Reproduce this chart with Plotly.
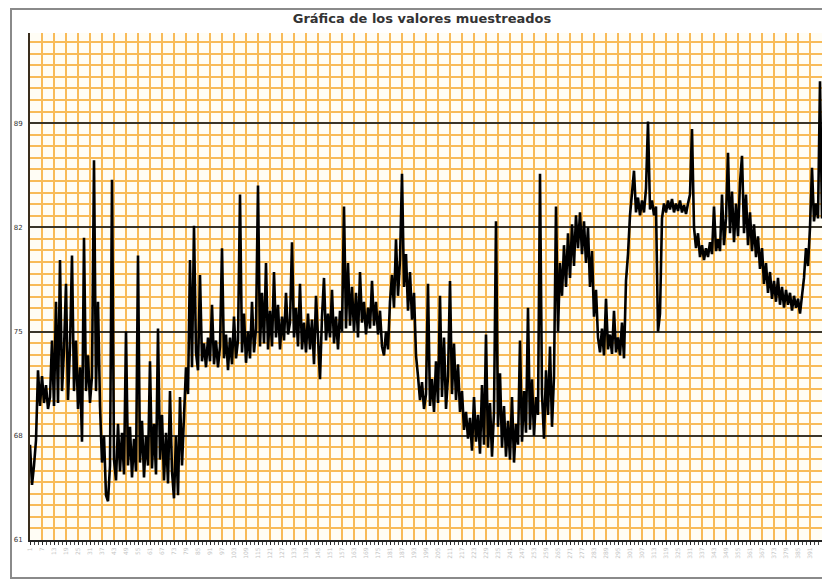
import plotly.graph_objects as go

title_text = "Gráfica de los valores muestreados"

values = [
    67.4, 64.7, 66.0, 67.7, 72.4, 70.0, 72.0, 70.2, 71.4, 69.8, 70.6, 74.4, 70.0, 77.0, 70.2, 79.8, 71.0, 73.8, 78.2, 70.4,
    74.0, 80.1, 71.0, 74.4, 69.8, 72.6, 67.6, 81.3, 71.0, 73.4, 70.2, 72.0, 86.5, 71.0, 77.0, 70.0, 66.2, 68.0, 64.0, 63.6,
    66.0, 85.2, 66.4, 65.0, 68.8, 65.6, 68.2, 65.4, 75.0, 66.0, 68.6, 65.2, 67.8, 65.6, 80.1, 66.2, 69.0, 65.2, 68.0, 66.0,
    73.0, 65.8, 68.8, 65.4, 75.2, 66.4, 69.4, 65.0, 68.2, 64.8, 71.0, 65.6, 63.8, 68.0, 64.0, 70.6, 66.0, 69.0, 72.6, 70.8,
    79.8, 72.6, 82.1, 73.6, 72.4, 78.8, 73.0, 74.2, 72.6, 74.6, 73.0, 76.8, 72.8, 74.4, 72.6, 74.0, 80.6, 73.2, 74.8, 72.4,
    74.6, 72.8, 76.0, 73.2, 74.4, 84.2, 73.6, 76.2, 72.9, 75.0, 73.2, 77.0, 73.6, 75.2, 84.8, 74.0, 77.6, 74.2, 79.6, 73.8,
    76.4, 74.0, 79.0, 74.6, 76.8, 73.8, 76.0, 74.4, 77.6, 74.8, 75.6, 81.0, 74.6, 76.6, 74.0, 78.2, 73.8, 75.6, 73.6, 76.2,
    73.8, 75.8, 72.8, 77.4, 74.0, 71.8, 76.0, 78.6, 74.4, 76.2, 74.6, 77.8, 74.2, 76.0, 73.8, 76.4, 75.0, 83.4, 75.2, 79.6,
    75.4, 78.0, 75.0, 77.6, 74.6, 79.0, 75.6, 77.0, 74.8, 76.6, 75.2, 78.4, 75.4, 77.0, 74.8, 76.4, 74.0, 73.4, 75.0, 73.8,
    77.0, 78.8, 76.6, 81.2, 77.4, 79.8, 85.6, 78.0, 80.2, 76.4, 79.0, 75.8, 77.6, 73.4, 72.0, 70.4, 71.6, 69.8, 70.8, 78.2,
    70.0, 71.8, 69.6, 73.0, 70.2, 77.4, 70.6, 74.6, 69.8, 72.0, 78.4, 70.8, 74.2, 70.4, 72.8, 69.6, 71.0, 68.4, 69.6, 67.8,
    69.2, 67.0, 70.6, 67.6, 69.4, 66.8, 71.4, 67.4, 74.8, 67.2, 70.2, 66.6, 69.6, 82.4, 68.6, 72.2, 67.2, 70.0, 66.6, 69.0,
    66.4, 70.6, 66.2, 68.8, 67.4, 74.4, 67.6, 71.0, 68.2, 76.6, 68.4, 71.8, 68.0, 70.6, 69.4, 85.6, 70.8, 67.8, 72.4, 69.4,
    74.0, 68.6, 72.0, 83.4, 75.0, 79.6, 77.4, 80.8, 78.0, 81.6, 78.6, 82.2, 79.4, 82.8, 80.6, 83.0, 80.2, 82.4, 79.6, 82.0,
    78.0, 80.4, 76.0, 77.8, 74.6, 73.6, 75.2, 73.4, 77.2, 73.8, 74.8, 73.5, 76.4, 73.6, 74.6, 73.4, 75.6, 73.2, 78.4, 80.2,
    82.8, 84.2, 85.8, 83.0, 84.0, 82.8, 83.8, 83.0, 84.6, 89.1, 83.2, 83.8, 82.8, 83.4, 75.0, 76.2, 82.6, 83.6, 83.0, 83.8,
    83.2, 83.9, 83.0, 83.6, 83.1, 83.8, 83.0, 83.5, 82.9, 83.6, 84.2, 88.6, 82.0, 80.6, 81.6, 80.0, 80.8, 79.8, 80.6, 80.0,
    81.0, 80.2, 83.4, 80.4, 81.2, 80.4, 84.2, 80.8, 82.6, 87.0, 81.6, 84.4, 81.0, 83.6, 81.4, 85.0, 86.8, 81.6, 84.2, 80.8,
    83.0, 80.4, 82.2, 80.0, 81.4, 79.2, 80.6, 78.2, 79.6, 77.6, 79.0, 77.2, 78.4, 77.0, 78.6, 76.8, 78.0, 76.6, 77.8, 76.8,
    77.6, 76.4, 77.4, 76.6, 77.2, 76.2, 77.6, 78.6, 80.6, 79.4, 82.0, 86.0, 82.4, 83.6, 82.6, 91.8, 82.6, 85.6, 82.8, 85.0,
]
samples = list(range(1, len(values) + 1))

y_tick_vals = [61, 68, 75, 82, 89]
y_tick_text = ["61", "68", "75", "82", "89"]

x_tick_vals = [s for s in samples[::6] if s < len(values) - 4]
x_tick_text = [str(s) for s in x_tick_vals]

orange = "#f8bb58"

# the page body has an 8px margin; the figure is sized so it fits the window
OFF = 8
W, H = 830 - OFF, 587 - OFF
ml, mr, mt, mb = 30 - OFF, 0, 33 - OFF, 47
pw, ph = W - ml - mr, H - mt - mb

def px(xs):
    return (xs - OFF - ml) / pw

def py(ys):
    return (H - mb - (ys - OFF)) / ph

fig = go.Figure()
fig.add_trace(go.Scatter(
    x=samples, y=values, mode="lines",
    line=dict(color="#000000", width=2.6),
    hoverinfo="skip", showlegend=False,
))

fig.update_layout(
    width=W, height=H,
    margin=dict(l=ml, r=mr, t=mt, b=mb, autoexpand=False),
    paper_bgcolor="#ffffff",
    plot_bgcolor="#fffdf5",
    title=dict(text="<b>" + title_text + "</b>", x=(422 - OFF) / W, xanchor="center",
               xref="container", y=1 - (18 - OFF) / H, yanchor="middle",
               font=dict(family="DejaVu Sans", size=13, color="#333333")),
    xaxis=dict(
        range=[1, len(values) + 1],
        tickmode="array", tickvals=x_tick_vals, ticktext=x_tick_text,
        tickangle=-90, tickfont=dict(size=6, color="#c4c4c4", family="DejaVu Sans"),
        showgrid=True, gridcolor=orange, gridwidth=2,
        ticks="outside", ticklen=3, tickcolor="#222222",
        minor=dict(dtick=2, tick0=1, ticks="outside", ticklen=3, tickcolor="#444444",
                   showgrid=False),
        showline=True, linecolor="#222222", linewidth=2,
        zeroline=False, automargin=False,
    ),
    yaxis=dict(
        range=[61, 95.05],
        tickmode="array", tickvals=y_tick_vals, ticktext=y_tick_text,
        tickfont=dict(size=7, color="#333333", family="DejaVu Sans"),
        ticklabelstandoff=4,
        showgrid=True, gridcolor="#3a3528", gridwidth=2,
        minor=dict(tick0=61, dtick=7 / 9, showgrid=True, gridcolor=orange, gridwidth=2),
        showline=True, linecolor="#3a2e1e", linewidth=2,
        zeroline=False, ticks="", automargin=False,
    ),
    shapes=[
        dict(type="rect", xref="paper", yref="paper",
             x0=px(11), x1=px(845), y0=py(578), y1=py(9),
             line=dict(color="#8a8a8a", width=2), fillcolor="rgba(0,0,0,0)",
             layer="below"),
    ],
)

fig.write_html("out.html")
